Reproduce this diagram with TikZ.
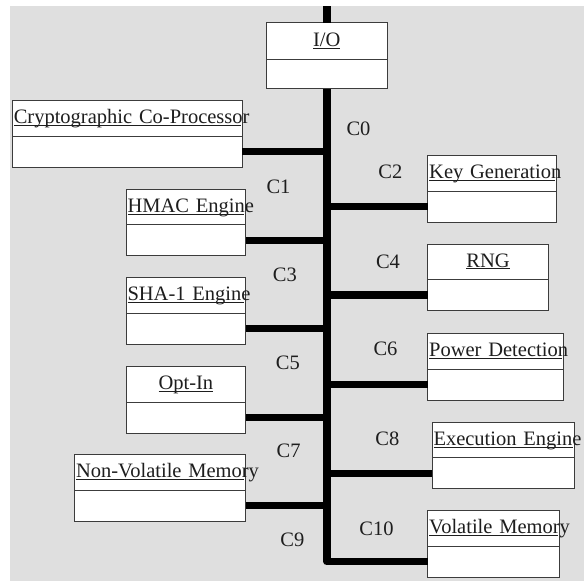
\documentclass[tikz,border=0pt]{standalone}
\usepackage{fontspec}
\setmainfont{Liberation Serif}
\usetikzlibrary{positioning}
\definecolor{PanelClr}{RGB}{223,223,223}
\definecolor{EdgeClr}{RGB}{60,60,60}
\definecolor{InkClr}{RGB}{30,30,30}

\newlength\namewd
% underlined object name, the rule stops at the box edge
\newcommand{\objname}[1]{%
  \settowidth{\namewd}{#1}%
  \ifdim\namewd>\dimexpr\linewidth-3pt\relax
    \setlength{\namewd}{\dimexpr\linewidth-3pt\relax}\fi
  \hspace*{1.5pt}\makebox[0pt][l]{\rlap{\rule[-2pt]{\namewd}{0.7pt}}#1}}
% same, centred in the box
\newcommand{\objcname}[1]{%
  \settowidth{\namewd}{#1}%
  \rlap{\rule[-2pt]{\namewd}{0.7pt}}#1}

\tikzset{
  objhead/.style={draw=EdgeClr, fill=white, line width=0.9pt, anchor=north west,
    minimum width=#1, text width=#1, inner sep=0pt, outer sep=0pt,
    minimum height=35.5pt, text height=23pt, text depth=12.5pt, align=left},
  objbody/.style={draw=EdgeClr, fill=white, line width=0.9pt,
    minimum width=#1, minimum height=31pt, inner sep=0pt, outer sep=0pt},
  link/.style={line width=7.4pt, black, line join=round},
  busref/.style={inner sep=0pt}
}

\begin{document}
\begin{tikzpicture}[x=1pt,y=-1pt,font=\fontsize{20.5}{24}\selectfont,text=InkClr]
\useasboundingbox (0,0) rectangle (584,581);
\fill[PanelClr] (10,6) rectangle (584,581);

% objects
\node[objhead=121pt, align=center, minimum height=36.5pt, text height=24pt] (ioa) at (266.3,22.7) {\objcname{I/O}};
\node[objbody=121pt, minimum height=29.5pt, below=0pt of ioa] (iob) {};

\node[objhead=230pt] (cryptoa) at (12.3,100.7) {\objname{Cryptographic Co-Processor}};
\node[objbody=230pt, below=0pt of cryptoa] (cryptob) {};

\node[objhead=128.3pt] (keygena) at (427.7,155.7) {\objname{Key Generation}};
\node[objbody=128.3pt, below=0pt of keygena] (keygenb) {};

\node[objhead=119.8pt] (hmaca) at (126,189.3) {\objname{HMAC Engine}};
\node[objbody=119.8pt, below=0pt of hmaca] (hmacb) {};

\node[objhead=121pt, align=center] (rnga) at (427.6,244) {\objcname{RNG}};
\node[objbody=121pt, below=0pt of rnga] (rngb) {};

\node[objhead=119.8pt] (shaa) at (126,277.7) {\objname{SHA-1 Engine}};
\node[objbody=119.8pt, below=0pt of shaa] (shab) {};

\node[objhead=135.5pt] (powera) at (427.6,333.7) {\objname{Power Detection}};
\node[objbody=135.5pt, below=0pt of powera] (powerb) {};

\node[objhead=119.8pt, align=center] (optina) at (126,366.7) {\objcname{Opt-In}};
\node[objbody=119.8pt, below=0pt of optina] (optinb) {};

\node[objhead=142.7pt] (execa) at (432,422.3) {\objname{Execution Engine}};
\node[objbody=142.7pt, below=0pt of execa] (execb) {};

\node[objhead=171.3pt] (nvma) at (74.5,454.7) {\objname{Non-Volatile Memory}};
\node[objbody=171.3pt, below=0pt of nvma] (nvmb) {};

\node[objhead=132.2pt] (vmema) at (427.6,510.7) {\objname{Volatile Memory}};
\node[objbody=132.2pt, below=0pt of vmema] (vmemb) {};

% bus
\coordinate (bustop) at (326.8,6);
\draw[link] (bustop) -- (ioa.north);
\draw[link] (iob.south) -- (vmemb.west -| iob.south) -- (vmemb.west);

\draw[link] (cryptob.east) -- (cryptob.east -| iob.south);
\draw[link] (hmacb.east) -- (hmacb.east -| iob.south);
\draw[link] (shab.east) -- (shab.east -| iob.south);
\draw[link] (optinb.east) -- (optinb.east -| iob.south);
\draw[link] (nvmb.east) -- (nvmb.east -| iob.south);

\draw[link] (keygenb.west -| iob.south) -- (keygenb.west);
\draw[link] (rngb.west -| iob.south) -- (rngb.west);
\draw[link] (powerb.west -| iob.south) -- (powerb.west);
\draw[link] (execb.west -| iob.south) -- (execb.west);

% connector names
\node[busref] (c0) at (358.5,129.2) {C0};
\node[busref] (c1) at (278.5,186.5) {C1};
\node[busref] (c2) at (390.3,171.7) {C2};
\node[busref] (c3) at (284.9,275) {C3};
\node[busref] (c4) at (388,261.7) {C4};
\node[busref] (c5) at (287.9,363.3) {C5};
\node[busref] (c6) at (385.5,349.3) {C6};
\node[busref] (c7) at (288.6,450.7) {C7};
\node[busref] (c8) at (387.3,439) {C8};
\node[busref] (c9) at (292.4,540) {C9};
\node[busref] (c10) at (376.5,528.3) {C10};

\end{tikzpicture}
\end{document}
